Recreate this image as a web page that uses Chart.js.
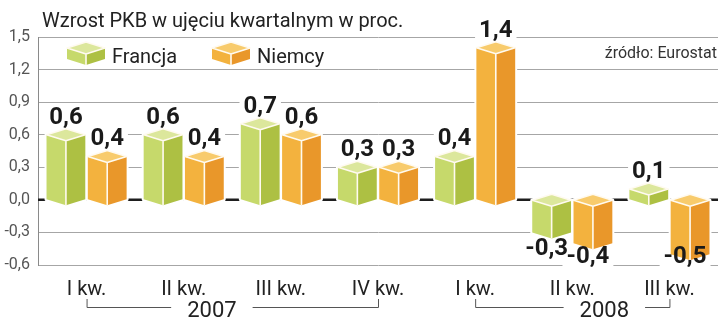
<!DOCTYPE html>
<html lang="pl">
<head>
<meta charset="UTF-8">
<title>Wzrost PKB</title>
<script src="https://cdn.jsdelivr.net/npm/chart.js"></script>
<style>
  html, body { margin: 0; padding: 0; background: #fff; }
  #wrap { width: 720px; height: 322px; }
</style>
</head>
<body>
<div id="wrap"><canvas id="pkb" width="720" height="322"></canvas></div>
<script>
const quarters = ['I kw.', 'II kw.', 'III kw.', 'IV kw.', 'I kw.', 'II kw.', 'III kw.'];
const francja = [0.6, 0.6, 0.7, 0.3, 0.4, -0.3, 0.1];
const niemcy = [0.4, 0.4, 0.6, 0.3, 1.4, -0.4, -0.5];
const yTicks = [-0.6, -0.3, 0, 0.3, 0.6, 0.9, 1.2, 1.5];
const years = ['2007', '2008'];
const yearSpans = [[0, 3], [4, 6]];
const yearTextAt = [1.29, 5.33];

// face colours: left, right, top
const palette = [
  { left: '#c6d96b', right: '#adc043', top: '#dce79c' },
  { left: '#f3b23e', right: '#e9972a', top: '#f8cb6c' }
];

const fmt = v => v.toFixed(1).replace('.', ',');
const DEPTH = 6;

function drawBox(ctx, cx, w, yTop, yBot, c, halo) {
  const L = cx - w / 2, R = cx + w / 2, d = DEPTH;
  ctx.save();
  ctx.lineJoin = 'round';
  if (halo) {
    ctx.beginPath();
    ctx.moveTo(L, yTop); ctx.lineTo(cx, yTop - d); ctx.lineTo(R, yTop);
    ctx.lineTo(R, yBot); ctx.lineTo(cx, yBot + d); ctx.lineTo(L, yBot);
    ctx.closePath();
    ctx.strokeStyle = '#fff';
    ctx.lineWidth = halo;
    ctx.stroke();
  }
  // left face
  ctx.beginPath();
  ctx.moveTo(L, yTop); ctx.lineTo(cx, yTop + d); ctx.lineTo(cx, yBot + d); ctx.lineTo(L, yBot);
  ctx.closePath();
  ctx.fillStyle = c.left; ctx.fill();
  // right face
  ctx.beginPath();
  ctx.moveTo(cx, yTop + d); ctx.lineTo(R, yTop); ctx.lineTo(R, yBot); ctx.lineTo(cx, yBot + d);
  ctx.closePath();
  ctx.fillStyle = c.right; ctx.fill();
  // top face
  ctx.beginPath();
  ctx.moveTo(L, yTop); ctx.lineTo(cx, yTop - d); ctx.lineTo(R, yTop); ctx.lineTo(cx, yTop + d);
  ctx.closePath();
  ctx.fillStyle = c.top; ctx.fill();
  // white edges
  ctx.strokeStyle = '#fffaf0';
  ctx.lineWidth = 1.6;
  ctx.beginPath();
  ctx.moveTo(L, yTop); ctx.lineTo(cx, yTop - d); ctx.lineTo(R, yTop); ctx.lineTo(cx, yTop + d); ctx.closePath();
  ctx.moveTo(cx, yTop + d); ctx.lineTo(cx, yBot + d);
  ctx.stroke();
  ctx.restore();
}

// where the value label of a bar goes
function labelPos(chart, el, v) {
  const area = chart.chartArea;
  if (v >= 0) {
    return { x: el.x, y: Math.min(el.y, el.base) - DEPTH - 5 };
  }
  return { x: el.x - 5, y: Math.min(Math.max(el.y, el.base) + 23, area.bottom - 2) };
}

const labelFont = 'bold 24px Roboto';

const cubes = {
  id: 'cubes',
  beforeDatasetsDraw(chart) {
    const ctx = chart.ctx, area = chart.chartArea;
    // knock grid lines out behind value labels
    ctx.save();
    ctx.font = labelFont;
    chart.data.datasets.forEach((ds, i) => {
      chart.getDatasetMeta(i).data.forEach((el, j) => {
        const p = labelPos(chart, el, ds.data[j]);
        const w = ctx.measureText(fmt(ds.data[j])).width;
        ctx.fillStyle = '#fff';
        ctx.fillRect(p.x - w / 2 - 4, p.y - 19, w + 8, 22);
      });
    });
    // zero line
    const y0 = chart.scales.y.getPixelForValue(0);
    ctx.strokeStyle = '#1e1e1e';
    ctx.lineWidth = 2.5;
    ctx.beginPath();
    ctx.moveTo(area.left, y0); ctx.lineTo(area.right, y0);
    ctx.stroke();
    ctx.restore();
  },
  afterDatasetsDraw(chart) {
    const ctx = chart.ctx;
    chart.data.datasets.forEach((ds, i) => {
      chart.getDatasetMeta(i).data.forEach(el => {
        const top = Math.min(el.y, el.base), bot = Math.max(el.y, el.base);
        drawBox(ctx, el.x, el.width, top, bot, palette[i], 4);
      });
    });
    ctx.save();
    ctx.font = labelFont;
    ctx.fillStyle = '#1a1a1a';
    ctx.textAlign = 'center';
    ctx.textBaseline = 'alphabetic';
    chart.data.datasets.forEach((ds, i) => {
      chart.getDatasetMeta(i).data.forEach((el, j) => {
        const p = labelPos(chart, el, ds.data[j]);
        ctx.fillText(fmt(ds.data[j]), p.x, p.y);
      });
    });
    ctx.restore();
  },
  afterDraw(chart) {
    const ctx = chart.ctx, x = chart.scales.x;
    ctx.save();
    // title
    ctx.fillStyle = '#222';
    ctx.font = '20px Roboto';
    ctx.textBaseline = 'alphabetic';
    ctx.fillText('Wzrost PKB w ujęciu kwartalnym w proc.', 42, 27);
    // source
    ctx.font = '16px Roboto';
    ctx.fillStyle = '#333';
    ctx.textAlign = 'right';
    ctx.fillText('źródło: Eurostat', 717, 58);
    // legend
    ctx.textAlign = 'left';
    ctx.font = '20px Roboto';
    const legendX = [67, 212];
    chart.data.datasets.forEach((ds, i) => {
      drawBox(ctx, legendX[i] + 19, 38, 48, 59, palette[i], 0);
      ctx.fillStyle = '#222';
      ctx.fillText(ds.label, legendX[i] + 45, 63);
    });
    // year brackets
    ctx.strokeStyle = '#555';
    ctx.lineWidth = 1;
    ctx.font = '22px Roboto';
    ctx.textAlign = 'center';
    years.forEach((yr, k) => {
      const a = x.getPixelForValue(yearSpans[k][0]);
      const b = x.getPixelForValue(yearSpans[k][1]);
      const t = x.getPixelForValue(yearTextAt[k]);
      const half = ctx.measureText(yr).width / 2 + 16;
      ctx.beginPath();
      ctx.moveTo(a + 0.5, 299); ctx.lineTo(a + 0.5, 307.5); ctx.lineTo(t - half, 307.5);
      ctx.moveTo(t + half, 307.5); ctx.lineTo(b + 0.5, 307.5); ctx.lineTo(b + 0.5, 299);
      ctx.stroke();
      ctx.fillStyle = '#222';
      ctx.fillText(yr, t, 317);
    });
    ctx.restore();
  }
};

new Chart(document.getElementById('pkb'), {
  type: 'bar',
  data: {
    labels: quarters,
    datasets: [
      { label: 'Francja', data: francja, backgroundColor: 'rgba(0,0,0,0)', borderWidth: 0 },
      { label: 'Niemcy', data: niemcy, backgroundColor: 'rgba(0,0,0,0)', borderWidth: 0 }
    ]
  },
  options: {
    responsive: false,
    animation: false,
    layout: { padding: { top: 37, right: 2, left: 0, bottom: 0 } },
    datasets: { bar: { categoryPercentage: 0.85, barPercentage: 0.94 } },
    plugins: { legend: { display: false }, tooltip: { enabled: false } },
    scales: {
      x: {
        grid: { display: false },
        border: { display: false },
        ticks: { color: '#222', font: { family: 'Roboto', size: 20 }, padding: 5, maxRotation: 0 },
        afterFit: s => { s.height = 57; }
      },
      y: {
        min: -0.6,
        max: 1.5,
        afterBuildTicks: s => { s.ticks = yTicks.map(v => ({ value: v })); },
        grid: { color: '#a6a6a6', lineWidth: 1, drawTicks: false },
        border: { color: '#8a8a8a' },
        ticks: { color: '#555', font: { family: 'Roboto', size: 16 }, padding: 8, callback: v => fmt(v) },
        afterFit: s => { s.width = 38; }
      }
    }
  },
  plugins: [cubes]
});
</script>
</body>
</html>
